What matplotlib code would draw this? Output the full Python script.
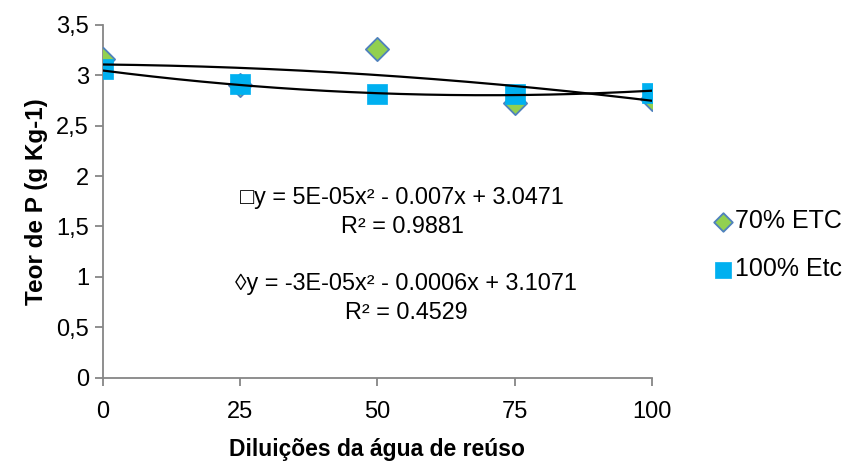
import matplotlib
matplotlib.use("Agg")
import matplotlib.pyplot as plt
import numpy as np
from matplotlib.ticker import FuncFormatter

# doses (diluicoes)
diluicoes = [0, 25, 50, 75, 100]
etc70 = [3.16, 2.90, 3.26, 2.72, 2.76]
etc100 = [3.06, 2.91, 2.81, 2.81, 2.82]

# trendline coefficients as shown on the chart (a*x^2 + b*x + c)
coef70 = [-3e-05, -0.0006, 3.1071]
coef100 = [5e-05, -0.007, 3.0471]

eq100 = "\u25a1y = 5E-05x\u00b2 - 0.007x + 3.0471\nR\u00b2 = 0.9881"
eq70 = "\u25cay = -3E-05x\u00b2 - 0.0006x + 3.1071\nR\u00b2 = 0.4529"

gray = "#868686"

fig = plt.figure(figsize=(8.5, 4.61), dpi=100)
ax = fig.add_axes([0.121, 0.181, 0.646, 0.765])

ax.scatter(diluicoes, etc70, marker="D", s=140, color="#92D050",
           edgecolor="#4F81BD", linewidth=1.3, zorder=3, label="70% ETC")
ax.scatter(diluicoes, etc100, marker="s", s=200, color="#00B0F0",
           edgecolor="#00B0F0", linewidth=0.5, zorder=4, label="100% Etc")

xs = np.linspace(0, 100, 200)
ax.plot(xs, np.polyval(coef70, xs), color="black", lw=1.6, zorder=5)
ax.plot(xs, np.polyval(coef100, xs), color="black", lw=1.6, zorder=5)

ax.text(54.5, 1.64, eq100, ha="center", va="center", multialignment="center",
        fontsize=16.8, family=["Liberation Sans", "DejaVu Sans"], linespacing=1.35)
ax.text(55.2, 0.79, eq70, ha="center", va="center", multialignment="center",
        fontsize=16.8, family=["Liberation Sans", "DejaVu Sans"], linespacing=1.35)

ax.set_xlim(0, 100)
ax.set_ylim(0, 3.5)
ax.set_xticks(diluicoes)
ax.set_yticks(np.arange(0, 3.51, 0.5))
ax.yaxis.set_major_formatter(FuncFormatter(lambda v, p: ("%g" % v).replace(".", ",")))

for s in ["top", "right"]:
    ax.spines[s].set_visible(False)
for s in ["left", "bottom"]:
    ax.spines[s].set_color(gray)
    ax.spines[s].set_linewidth(1.3)
ax.tick_params(direction="out", length=6, width=1.3, color=gray, labelsize=17, pad=4)
ax.tick_params(axis="x", pad=11)
for lab in ax.get_xticklabels() + ax.get_yticklabels():
    lab.set_family(["Liberation Sans Narrow", "Liberation Sans"])

ax.set_xlabel("Diluições da água de reúso", fontsize=16.5, fontweight="bold",
              family="Liberation Sans", labelpad=11)
ax.set_ylabel("Teor de P (g Kg-1)", fontsize=17.5, fontweight="bold",
              family="Liberation Sans", labelpad=6)

ax.legend(loc="center left", bbox_to_anchor=(1.106, 0.375), frameon=False,
          prop={"family": "Liberation Sans", "size": 18}, handletextpad=0.0,
          labelspacing=0.95, markerscale=0.8, borderaxespad=0, borderpad=0,
          handlelength=1.0)

fig.savefig("out.png", dpi=100)
